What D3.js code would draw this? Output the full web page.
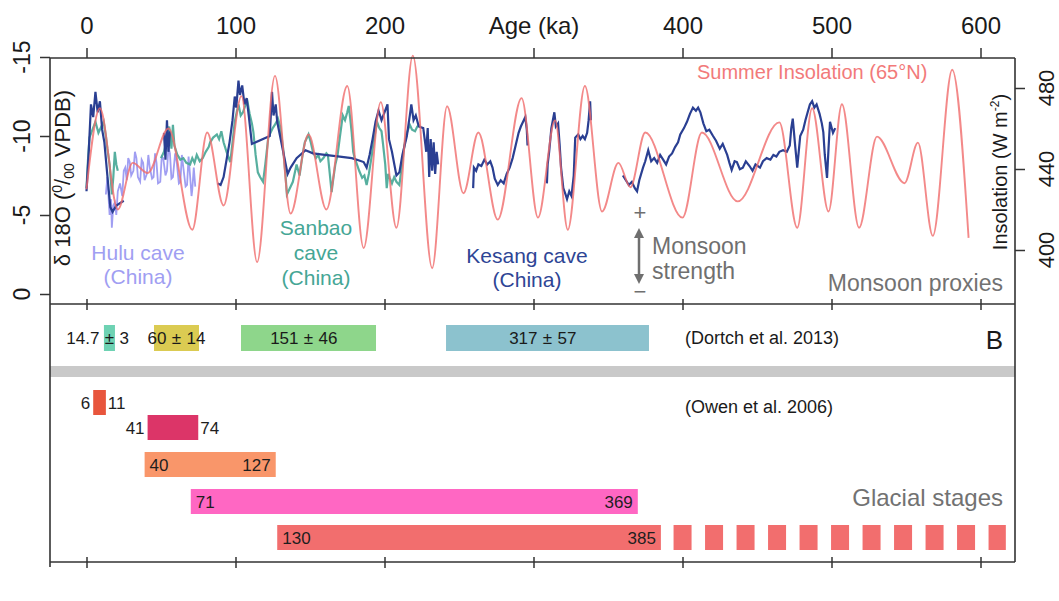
<!DOCTYPE html>
<html>
<head>
<meta charset="utf-8">
<script src="https://cdn.jsdelivr.net/npm/d3@7"></script>
<style>
body { margin: 0; background: #fff; }
svg text { font-family: "Liberation Sans", Arial, Helvetica, sans-serif; }
</style>
</head>
<body>
<svg id="chart" width="1059" height="601"></svg>
<script>
// ---- data ----
var topTicks = [0, 100, 200, 300, 400, 500, 600];
var topTickLabels = ["0", "100", "200", "Age (ka)", "400", "500", "600"];
var leftTicks = [0, -5, -10, -15];
var rightTicks = [400, 440, 480];

// summer insolation 65N, [age ka, W m-2] (extremes of the curve)
var insolation = [[0,430],[9,470],[21,420],[31,443],[41,438],[55,460],[71,410],[81,458],[92,422],
  [104,476],[114.5,394],[126.5,486],[137,418],[149,457],[161,420],[175,481],[186,401],[197.5,473],
  [208,411],[219,496],[232,391],[242,471],[253,428],[263,458],[276,415],[292,475],[303,416],
  [314.5,464],[323,410],[334.5,481],[346,419],[357,443],[365,431],[375,458],[400,416],[413,458],
  [437,424],[465,463],[477,411],[487,470],[498,419],[507,472],[518.5,411],[530.5,456],[549,433],
  [558,453],[568,407],[581,489],[592,406]];

// Hulu cave d18O
var hulu = [[13,-6.3],[14,-7.4],[15.5,-5.0],[16.5,-6.0],[17,-4.2],[18,-5.6],[19,-5.8],[20,-5.0],
  [21,-6.5],[22.5,-7.0],[24,-6.2],[25,-7.8],[26,-8.0],[27,-7.2],[28,-8.6],[29,-8.35],[30,-7.5],
  [31.5,-7.8],[32.5,-9.0],[33.5,-8.6],[34.5,-7.4],[36,-7.1],[37,-8.5],[38,-8.3],[39,-7.2],[40.5,-7.6],
  [41.5,-8.8],[42.5,-8.0],[44,-7.3],[45,-7.4],[46,-8.9],[47,-8.3],[48,-7.0],[49.5,-7.1],[50.5,-8.7],
  [51.5,-8.6],[53,-7.5],[54,-7.8],[55,-9.3],[56,-8.9],[57,-7.3],[58,-7.4],[59.5,-8.9],[60.5,-8.4],
  [62,-7.0],[63,-7.1],[64,-8.8],[65,-8.0],[66.5,-6.8],[67.5,-6.9],[68.5,-8.7],[69.5,-7.5],[70.5,-6.2],
  [71,-6.6],[72,-8.0],[73,-6.8]];

// Sanbao cave d18O (null = gap)
var sanbao = [[0,-6.7],[1,-8.5],[2,-9.9],[4,-10.4],[6,-10.9],[8,-10.2],[10,-10.6],[11.5,-10.9],[13,-10],
  [14,-9.2],[15.5,-8.2],[16.5,-7.0],[17,-6.3],[18,-7.4],[19,-9.0],[20,-8.2],[21,-7.8],null,
  [50,-8.6],[52,-9.0],[54,-9.8],[55.5,-10.6],[57,-9.2],[58,-10.7],[59,-9.4],[61,-8.8],[63,-8.5],
  [65,-8.6],[67,-8.3],[69.5,-8.2],[71,-8.6],[72.5,-8.3],[74,-8.8],[76,-8.4],[78,-8.6],[80,-9.0],
  [82,-9.3],[83,-9.6],[85,-9.9],[87.5,-10.1],[89,-9.8],[90.5,-10.3],[92,-9.6],[94,-9.0],[96.5,-8.35],
  [98,-9.6],[99.5,-10.9],[101,-11.6],[102,-12],[103.5,-11.3],[105,-11.5],[106.5,-11.9],[108,-12.2],
  [109.5,-11.4],[111,-10.8],[112,-10.25],[113.5,-8.8],[115,-7.7],[116.5,-7.4],[118.5,-7.1],[120,-8.2],
  [122,-9.9],[123.5,-10.2],[125,-10.5],[127,-10.8],[128.5,-11.1],[130,-10.6],[132,-9.2],[133.5,-7.6],
  [134.5,-6.3],[136,-6.6],[138.5,-7.1],[141,-8.2],[143,-7.5],[145,-8.8],[146.5,-9.6],[149,-10.1],
  [150.5,-9.6],[152,-9.0],[154,-8.6],[155.5,-8.8],[157,-8.4],[159,-8.6],[161,-8.9],[162,-8.8],
  [163.5,-7.4],[164.5,-6.45],[165.5,-7.2],[167,-8.2],[168.5,-8.8],[170,-9.9],[171,-10.6],[172,-11.3],
  [173.5,-11.0],[175,-11.5],[176,-11.9],[177,-11.1],[178,-10.2],[179,-9],[180,-8.6],[181.5,-8.2],
  [183,-7.8],[185,-7.35],[186.5,-7.5],[188,-6.9],[189.5,-7.6],[191.5,-8.8],[193,-9.8],[195,-10.9],
  [196.5,-10.5],[198,-10.3],[199,-9.5],[200.5,-8.2],[201.5,-6.7],[202.5,-7.6],[203.5,-7.35],[205,-7.0],
  [206.5,-7.4],[208,-7.1],[210,-6.9],[212,-8.4],[213.5,-9.5],[215,-10.2],[217,-10.7],[218.5,-10.4],
  [220.5,-10.3],[222,-10.6],[224,-10.7]];

// Kesang cave d18O (null = gap)
var kesang = [[0,-6.5],[1.5,-9],[3,-12],[4.5,-11.2],[6,-12.8],[7.5,-11.5],[9,-12.2],[10.5,-10.4],
  [12,-9.6],[14,-7.5],[16,-5.5],[17.5,-5.2],[20,-5.6],[25,-5.9],null,
  [52,-10.2],[53,-8.5],[54,-11],[55,-9],[56,-10.3],null,
  [88,-7.0],[90,-6.9],[92,-7.4],[94,-8.5],[96,-9.6],[98,-11],[99.5,-12.5],[100.5,-11.8],[102,-13.5],
  [103,-12.6],[104.5,-13.2],[106,-12.0],[107.5,-12.4],[109,-11.2],[111,-9.5],[123,-10],[124.5,-12.8],
  [125.5,-11.3],[127,-12],[128,-10.9],[135,-7.6],[137,-8],[141,-8.6],[147,-9.1],[152,-8.9],[160,-8.8],
  [170,-8.7],[178,-8.6],[183,-8.45],[186,-8.35],[188,-8.0],[190,-8.8],[192,-9.8],[194,-10.9],
  [196,-11.6],[198,-11],[200,-11.5],[202,-12],[203,-9.8],[205,-9],[208,-7.5],[210,-7.7],[212,-8.8],
  [215,-10],[217,-11.3],[218,-12],[219.5,-11],[221,-11.3],[223,-10.6],[226,-10.5],[227.5,-9.4],
  [228,-9],[229,-10.5],[230,-7.4],[231,-9.8],[232,-7.8],[233,-9.6],[234,-7.6],[235,-9],[236,-8.2],null,
  [259.5,-6.7],[260,-8],[261.5,-7.8],[263,-8.2],[265,-8.1],[267,-8.5],[269,-8.2],[271,-8.4],
  [272.5,-8.0],[274,-7.3],[276,-6.9],[278,-7.2],[280,-7.0],[282,-7.6],[284,-8],[286,-8.6],[288,-9.4],
  [290,-10.2],[291.5,-10.6],[293,-10.9],[294.5,-11.2],[295.5,-10.4],[296,-9.4],null,
  [309,-7.0],[309.5,-8.2],[310.5,-9],[312,-10.5],[313,-11],[314,-11.5],[315,-10.6],[316.5,-10.8],
  [317.5,-9.5],[318.5,-8],[320,-6.7],[321.5,-6.3],[322.5,-6.0],[324,-6.5],[325.5,-6.2],[327,-7.5],
  [328,-9.9],[330,-10.1],[331.5,-9.8],[333,-10],[334.5,-9.8],[336,-10.2],[337,-11],[338,-12.2],
  [338.5,-11],null,
  [360,-7.5],[362,-7.2],[364,-6.9],[366,-7.1],[368,-6.7],[369.5,-6.5],[371,-7.2],[373.5,-8],[375,-8.4],
  [377,-9.1],[379,-8.4],[381,-8.6],[383,-8.3],[385,-8.8],[387,-8.5],[389,-8.2],[391,-8.7],[393,-8.9],
  [395,-9.3],[397,-9.6],[398.5,-10.1],[401,-10.5],[403,-10.9],[405,-11.4],[407,-11.8],[409,-11.6],
  [410.5,-11.8],[412,-11.5],[414,-10.8],[416,-10.3],[418,-10.4],[420.5,-10],[422.5,-9.7],[425,-9.2],
  [427,-9.5],[430,-8.8],[431.5,-8.3],[433,-7.85],[435,-8.4],[436.5,-8.35],[438.5,-7.9],[440.5,-8.0],
  [442.5,-8.4],[445,-8.1],[447,-7.8],[449,-8.2],[452,-8.0],[454,-8.4],[456.5,-8.6],[459,-8.5],
  [461,-8.8],[463,-8.7],[465,-9.0],[467.5,-9.1],[470,-9.0],[472,-9.4],[473,-10.5],[474,-11.1],
  [475.5,-9.5],[477,-8.0],[478,-9],[479,-10],[481,-10.4],[482.5,-11],[484,-11.5],[485.5,-12],
  [487,-12.2],[488.5,-11.8],[490,-12.0],[492,-11.4],[493.5,-10.8],[494.5,-10.25],[495.5,-8.8],
  [497,-7.35],[498,-9.2],[499,-10.9],[501,-10.2],[502.5,-10.5]];

// Dortch et al. 2013 ages
var dortchValue = ["14.7", "60", "151", "317"];
var dortchErr = ["3", "14", "46", "57"];
var dortchFrom = [11.7, 45.3, 103.7, 241.3];
var dortchTo = [19.1, 75.5, 194.3, 377.5];
var dortchColors = ["#6ed2b3", "#dbcb52", "#8ed68b", "#8cc2ce"];

// Owen et al. 2006 glacial stages
var owenRows = ["a", "b", "c", "d", "e"];
var owenFrom = [4.5, 41, 39, 70, 128];
var owenTo = [13, 75, 127, 370, 385.5];
var owenLabelFrom = ["6", "41", "40", "71", "130"];
var owenLabelTo = ["11", "74", "127", "369", "385"];
var owenInside = [false, false, true, true, true];
var owenColors = ["#e8553c", "#dc3568", "#f9966a", "#ff67c3", "#f26e6e"];
var owenContinue = [394, 617];   // dashed continuation of the last stage

// ---- layout ----
var L = 50, R = 1015, TOP = 58, P1B = 304, BOT = 562;
var font = '"Liberation Sans", Arial, Helvetica, sans-serif';

var svg = d3.select("#chart");
svg.append("rect").attr("width", 1059).attr("height", 601).attr("fill", "#fff");

var x = d3.scaleLinear().domain([0, 600]).range([86.5, 980.5]);
var yL = d3.scaleLinear().domain([0, -15]).range([294, 57]);
var yR = d3.scaleLinear().domain([400, 480]).range([250, 88]);
var yRow = d3.scaleOrdinal().domain(owenRows).range([390, 415, 452, 489, 525]);
var rowH = 25;

// ---- upper panel: curves ----
var proxyLine = d3.line()
    .defined(function(d) { return d !== null; })
    .x(function(d) { return x(d[0]); })
    .y(function(d) { return yL(d[1]); });

svg.append("path").datum(hulu).attr("d", proxyLine)
    .attr("fill", "none").attr("stroke", "#a09ef2").attr("stroke-width", 1.8);
svg.append("path").datum(sanbao).attr("d", proxyLine)
    .attr("fill", "none").attr("stroke", "#45a695").attr("stroke-width", 2.2).attr("stroke-opacity", 0.9);
svg.append("path").datum(kesang).attr("d", proxyLine)
    .attr("fill", "none").attr("stroke", "#2a3f92").attr("stroke-width", 2.2);

var insLine = d3.line()
    .x(function(d) { return x(d[0]); })
    .y(function(d) { return yR(d[1]); })
    .curve(d3.curveMonotoneX);
svg.append("path").datum(insolation).attr("d", insLine)
    .attr("fill", "none").attr("stroke", "#f06b6b").attr("stroke-width", 1.9).attr("stroke-opacity", 0.8);

// ---- middle panel: Dortch bars ----
var dortch = dortchValue.map(function(v, i) {
  return {v: v, e: dortchErr[i], a: dortchFrom[i], b: dortchTo[i], c: dortchColors[i]};
});
svg.selectAll(".dortch").data(dortch).enter().append("rect")
    .attr("x", function(d) { return x(d.a); })
    .attr("width", function(d) { return x(d.b) - x(d.a); })
    .attr("y", 325).attr("height", 26)
    .attr("fill", function(d) { return d.c; });
dortch.forEach(function(d) {
  var cx = (x(d.a) + x(d.b)) / 2;
  var g = svg.append("g").attr("font-size", "17px").attr("fill", "#1a1a1a");
  g.append("text").attr("x", cx - 10).attr("y", 344).attr("text-anchor", "end").text(d.v);
  g.append("text").attr("x", cx).attr("y", 344).attr("text-anchor", "middle").text("±");
  g.append("text").attr("x", cx + 10).attr("y", 344).attr("text-anchor", "start").text(d.e);
});
svg.append("text").attr("x", 685).attr("y", 344).attr("font-size", "18px").attr("fill", "#1a1a1a")
    .text("(Dortch et al. 2013)");
svg.append("text").attr("x", 1003).attr("y", 349).attr("font-size", "26px").attr("fill", "#1a1a1a")
    .attr("text-anchor", "end").text("B");

// grey separator
svg.append("rect").attr("x", L).attr("y", 366).attr("width", R - L).attr("height", 11).attr("fill", "#c9c9c9");

// ---- lower panel: Owen bars ----
var owen = owenRows.map(function(r, i) {
  return {r: r, a: owenFrom[i], b: owenTo[i], la: owenLabelFrom[i], lb: owenLabelTo[i],
          inside: owenInside[i], c: owenColors[i]};
});
svg.selectAll(".owen").data(owen).enter().append("rect")
    .attr("x", function(d) { return x(d.a); })
    .attr("width", function(d) { return x(d.b) - x(d.a); })
    .attr("y", function(d) { return yRow(d.r); })
    .attr("height", rowH)
    .attr("fill", function(d) { return d.c; });
owen.forEach(function(d) {
  var yy = yRow(d.r) + rowH / 2 + 6;
  var g = svg.append("g").attr("font-size", "17px").attr("fill", "#1e1e1e");
  if (d.inside) {
    g.append("text").attr("x", x(d.a) + 5).attr("y", yy).attr("text-anchor", "start").text(d.la);
    g.append("text").attr("x", x(d.b) - 5).attr("y", yy).attr("text-anchor", "end").text(d.lb);
  } else {
    g.append("text").attr("x", x(d.a) - 3).attr("y", yy).attr("text-anchor", "end").text(d.la);
    g.append("text").attr("x", x(d.b) + 2).attr("y", yy).attr("text-anchor", "start").text(d.lb);
  }
});
var last = owen[owen.length - 1];
svg.append("line")
    .attr("x1", x(owenContinue[0])).attr("x2", x(owenContinue[1]))
    .attr("y1", yRow(last.r) + rowH / 2).attr("y2", yRow(last.r) + rowH / 2)
    .attr("stroke", last.c).attr("stroke-width", rowH).attr("stroke-dasharray", "18 13.5");

svg.append("text").attr("x", 685).attr("y", 413).attr("font-size", "18px").attr("fill", "#1a1a1a")
    .text("(Owen et al. 2006)");
svg.append("text").attr("x", 1003).attr("y", 506).attr("font-size", "24px").attr("fill", "#727272")
    .attr("text-anchor", "end").text("Glacial stages");

// ---- annotations upper panel ----
function lines(cx, ys, arr, color, size) {
  arr.forEach(function(t, i) {
    svg.append("text").attr("x", cx).attr("y", ys[i]).attr("text-anchor", "middle")
        .attr("font-size", size).attr("fill", color).text(t);
  });
}
lines(138, [260, 284], ["Hulu cave", "(China)"], "#a09ef2", "21px");
lines(316, [235, 260, 285], ["Sanbao", "cave", "(China)"], "#45a695", "21px");
lines(527, [263, 287], ["Kesang cave", "(China)"], "#2e4595", "21px");

svg.append("text").attr("x", 697).attr("y", 79).attr("font-size", "20px").attr("fill", "#f27a7a")
    .text("Summer Insolation (65°N)");
svg.append("text").attr("x", 1003).attr("y", 291).attr("font-size", "23px").attr("fill", "#727272")
    .attr("text-anchor", "end").text("Monsoon proxies");

var defs = svg.append("defs");
defs.append("marker").attr("id", "ah").attr("viewBox", "0 0 10 10").attr("refX", 5).attr("refY", 5)
    .attr("markerWidth", 4).attr("markerHeight", 4).attr("orient", "auto-start-reverse")
    .append("path").attr("d", "M0,0 L10,5 L0,10 z").attr("fill", "#6f6f6f");
svg.append("line").attr("x1", 639).attr("x2", 639).attr("y1", 233).attr("y2", 279)
    .attr("stroke", "#6f6f6f").attr("stroke-width", 2.5)
    .attr("marker-start", "url(#ah)").attr("marker-end", "url(#ah)");
svg.append("text").attr("x", 640).attr("y", 220).attr("text-anchor", "middle")
    .attr("font-size", "22px").attr("fill", "#6f6f6f").text("+");
svg.append("text").attr("x", 640).attr("y", 299).attr("text-anchor", "middle")
    .attr("font-size", "22px").attr("fill", "#6f6f6f").text("−");
svg.append("text").attr("x", 652).attr("y", 254).attr("font-size", "23px").attr("fill", "#6f6f6f").text("Monsoon");
svg.append("text").attr("x", 652).attr("y", 279).attr("font-size", "23px").attr("fill", "#6f6f6f").text("strength");

// ---- axes ----
var topAxis = svg.append("g").attr("transform", "translate(0," + TOP + ")")
    .call(d3.axisTop(x).tickValues(topTicks).tickSize(10).tickPadding(14)
      .tickFormat(function(d, i) { return topTickLabels[i]; }));
topAxis.select(".domain").remove();
topAxis.selectAll("text").attr("font-size", "24px").attr("font-family", font).attr("fill", "#1a1a1a");
topAxis.selectAll("line").attr("stroke", "#333").attr("stroke-width", 1.5);

[P1B, BOT].forEach(function(yy) {
  var g = svg.append("g").attr("transform", "translate(0," + (yy - 5) + ")")
      .call(d3.axisBottom(x).tickValues(topTicks).tickSize(11).tickFormat(""));
  g.select(".domain").remove();
  g.selectAll("line").attr("stroke", "#333").attr("stroke-width", 1.5);
});

var leftAxis = svg.append("g").attr("transform", "translate(" + L + ",0)")
    .call(d3.axisLeft(yL).tickValues(leftTicks).tickSize(10).tickFormat(""));
leftAxis.select(".domain").remove();
leftAxis.selectAll("line").attr("stroke", "#333").attr("stroke-width", 1.5);
leftTicks.forEach(function(v) {
  svg.append("text").attr("transform", "translate(30," + yL(v) + ") rotate(-90)")
      .attr("text-anchor", "middle").attr("font-size", "23px").attr("fill", "#1a1a1a").text(v);
});

var rightAxis = svg.append("g").attr("transform", "translate(" + R + ",0)")
    .call(d3.axisRight(yR).tickValues(rightTicks).tickSize(10).tickFormat(""));
rightAxis.select(".domain").remove();
rightAxis.selectAll("line").attr("stroke", "#333").attr("stroke-width", 1.5);
rightTicks.forEach(function(v) {
  svg.append("text").attr("transform", "translate(1054," + yR(v) + ") rotate(-90)")
      .attr("text-anchor", "middle").attr("font-size", "22px").attr("fill", "#1a1a1a").text(v);
});

// axis titles (inside the frame)
var lt = svg.append("text").attr("transform", "translate(70,178) rotate(-90)")
    .attr("text-anchor", "middle").attr("font-size", "22px").attr("fill", "#1a1a1a");
lt.append("tspan").text("δ 18O (");
lt.append("tspan").attr("font-size", "14px").attr("dy", -8).text("0");
lt.append("tspan").attr("dy", 8).text("/");
lt.append("tspan").attr("font-size", "14px").attr("dy", 4).text("00");
lt.append("tspan").attr("dy", -4).text(" VPDB)");

var rt = svg.append("text").attr("transform", "translate(1007,172) rotate(-90)")
    .attr("text-anchor", "middle").attr("font-size", "20px").attr("fill", "#1a1a1a");
rt.append("tspan").text("Insolation (W m");
rt.append("tspan").attr("font-size", "12px").attr("dy", -8).text("-2");
rt.append("tspan").attr("dy", 8).text(")");

// ---- frame ----
var frame = svg.append("g").attr("stroke", "#333").attr("stroke-width", 1.6);
frame.append("line").attr("x1", L).attr("x2", L).attr("y1", TOP).attr("y2", BOT + 5);
frame.append("line").attr("x1", R).attr("x2", R).attr("y1", TOP).attr("y2", BOT);
frame.append("line").attr("x1", L).attr("x2", R).attr("y1", TOP).attr("y2", TOP);
frame.append("line").attr("x1", L).attr("x2", R).attr("y1", P1B).attr("y2", P1B);
frame.append("line").attr("x1", L).attr("x2", R).attr("y1", BOT).attr("y2", BOT);
</script>
</body>
</html>
